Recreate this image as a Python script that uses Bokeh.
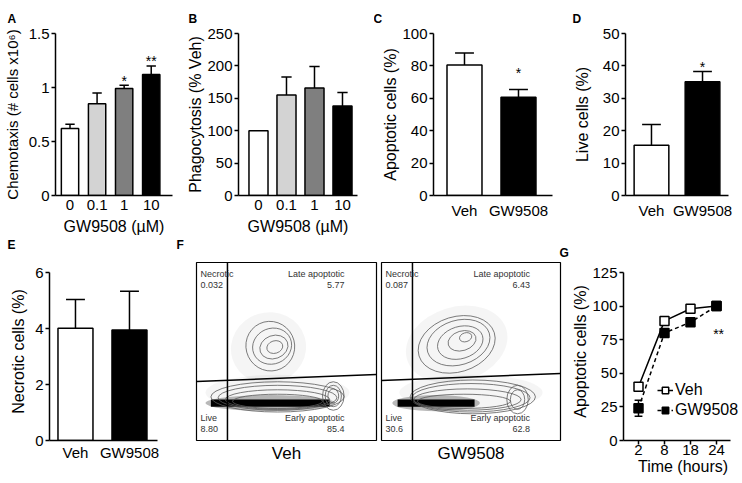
from bokeh.plotting import figure
from bokeh.layouts import row, column
from bokeh.models import Range1d, FixedTicker, Label, Legend, LegendItem, Title
from bokeh.embed import file_html
from bokeh.resources import INLINE

# ---------------- data ----------------
dose_labels = ["0", "0.1", "1", "10"]
chemotaxis = [0.62, 0.85, 0.99, 1.12]
chemotaxis_sem = [0.04, 0.10, 0.03, 0.08]
phagocytosis = [100, 155, 166, 138]
phagocytosis_sem = [0, 28, 33, 21]
dose_colors = ["#ffffff", "#d3d3d3", "#7f7f7f", "#000000"]

group_labels = ["Veh", "GW9508"]
group_colors = ["#ffffff", "#000000"]
apoptotic = [80.5, 60.7]
apoptotic_sem = [7.5, 4.8]
live = [15.5, 35.1]
live_sem = [6.4, 3.2]
necrotic = [4.01, 3.95]
necrotic_sem = [1.03, 1.38]

hour_labels = ["2", "8", "18", "24"]
veh_time = [40, 89, 98, 100]
gw_time = [24, 80, 88, 100]
gw_time_sem = [6, 0, 0, 0]

quadrant_names = ["Necrotic", "Late apoptotic", "Live", "Early apoptotic"]
veh_quadrant_pct = ["0.032", "5.77", "8.80", "85.4"]
gw_quadrant_pct = ["0.087", "6.43", "30.6", "62.8"]
veh_gate_x, veh_gate_y = 17.2, [33.1, 37.1]
gw_gate_x, gw_gate_y = 17.3, [33.7, 37.6]

# contour outlines: (x, y, width, height, angle), plot units 0-100
veh_upper = [(43.5, 52.5, 9, 7, 0.3), (43, 52.5, 16, 13, 0.35), (42, 53, 22, 20, 0.4), (41, 53, 27, 28, 0.45)]
veh_lower = [(45, 22, 50, 8, 0), (45, 23, 58, 11, 0), (45, 24, 66, 14, 0), (45, 24.5, 74, 17, 0)]
veh_lobe = [(76, 25, 6, 8, 0), (76, 25, 9, 12, 0), (76, 25, 12, 16, 0)]
veh_band = (8, 74, 21)
veh_cloud = [(40, 52, 42, 40, 0.3), (45, 27, 80, 20, 0)]
gw_upper = [(47, 58, 7, 5, 0.3), (45, 56, 16, 11, 0.3), (44, 55, 26, 18, 0.3), (43, 55, 36, 25, 0.3), (42, 54, 44, 31, 0.3)]
gw_lower = [(46, 22, 52, 8, 0), (48, 23, 60, 12, 0), (50, 24, 66, 16, 0), (51, 24.5, 70, 19, 0)]
gw_lobe = [(76, 23, 8, 11, 0), (76, 23, 12, 16, 0)]
gw_band = (9, 52, 21)
gw_cloud = [(42, 54, 58, 42, 0.3), (50, 27, 80, 20, 0)]

FONT = "Liberation Sans"
TICK_FS = "15px"
LAB_FS = "16px"


def base_fig(width, height, left, right, top, bottom, xr, yr, x_axis="below", y_axis="left"):
    p = figure(width=width, height=height, x_range=Range1d(*xr), y_range=Range1d(*yr),
               output_backend="svg", toolbar_location=None,
               x_axis_location=x_axis, y_axis_location=y_axis,
               min_border_left=left, min_border_right=right,
               min_border_top=top, min_border_bottom=bottom)
    p.grid.visible = False
    p.outline_line_color = None
    p.background_fill_color = "white"
    p.border_fill_color = "white"
    return p


def letter_kw():
    return dict(text_font=FONT, text_font_size="12px", text_font_style="bold", text_color="black")


def panel_letter(p, letter, offset):
    p.title.text = letter
    p.title.align = "left"
    p.title.offset = offset
    p.title.standoff = 16
    for k, v in letter_kw().items():
        setattr(p.title, k, v)


def below_letter(p, letter, offset):
    p.add_layout(Title(text=letter, align="left", offset=offset, standoff=0, vertical_align="top",
                       **letter_kw()), "below")


def style_axes(p, yticks, ylabel, ylab_standoff, xlabels, xlabel=None, y_over=None,
               x_tick_out=0, x_lab_standoff=2, x_title_standoff=0):
    ya = p.yaxis[0]
    xa = p.xaxis[0]
    ya.ticker = FixedTicker(ticks=yticks)
    ya.bounds = (yticks[0], yticks[-1])
    if y_over:
        ya.major_label_overrides = y_over
    ya.axis_label = ylabel
    ya.axis_label_standoff = ylab_standoff
    xa.ticker = FixedTicker(ticks=list(range(len(xlabels))))
    xa.major_label_overrides = {i: t for i, t in enumerate(xlabels)}
    if xlabel:
        xa.axis_label = xlabel
    for ax in (ya, xa):
        ax.axis_line_width = 1.5
        ax.axis_line_color = "black"
        ax.major_tick_line_width = 1.5
        ax.major_tick_line_color = "black"
        ax.major_tick_in = 0
        ax.major_tick_out = 4
        ax.minor_tick_line_color = None
        ax.major_label_text_font = FONT
        ax.major_label_text_font_size = TICK_FS
        ax.major_label_text_color = "black"
        ax.major_label_standoff = 2
        ax.axis_label_text_font = FONT
        ax.axis_label_text_font_size = LAB_FS
        ax.axis_label_text_font_style = "normal"
        ax.axis_label_text_color = "black"
    xa.major_label_standoff = x_lab_standoff
    xa.axis_label_standoff = x_title_standoff
    if x_tick_out == 0:
        xa.major_tick_line_color = None
        xa.major_tick_out = 0


def bars(p, vals, sems, colors, bw):
    xs = list(range(len(vals)))
    p.vbar(x=xs, top=vals, width=bw, fill_color=colors, line_color="black", line_width=1.5)
    ex = [x for x, s in zip(xs, sems) if s > 0]
    ev = [v for v, s in zip(vals, sems) if s > 0]
    et = [v + s for v, s in zip(vals, sems) if s > 0]
    cw = bw * 0.27
    p.segment(x0=ex, y0=ev, x1=ex, y1=et, line_color="black", line_width=1.5)
    p.segment(x0=[x - cw for x in ex], y0=et, x1=[x + cw for x in ex], y1=et,
              line_color="black", line_width=1.5)


def star(p, x, y, text):
    p.add_layout(Label(x=x, y=y, text=text, text_font=FONT, text_font_size="14px",
                       text_align="center", text_baseline="middle", text_color="black"))


# ---------------- row 1 (frames 33..201) ----------------
H1, T1 = 261, 33
B1 = H1 - 201

pA = base_fig(175, H1, 51, 3, T1, B1, (-0.536, 3.786), (0, 1.5))
style_axes(pA, [0, 0.5, 1, 1.5], "Chemotaxis (# cells x10\u2076)", 5, dose_labels, "GW9508 (\u00b5M)",
           y_over={0: "0"}, x_lab_standoff=4, x_title_standoff=5)
pA.yaxis[0].axis_label_text_font_size = "15px"
bars(pA, chemotaxis, chemotaxis_sem, dose_colors, 0.64)
star(pA, 2, 1.06, "*")
star(pA, 3, 1.245, "**")
panel_letter(pA, "A", -48)
below_letter(pA, "E", -48)

pB = base_fig(199, H1, 63, 17, T1, B1, (-0.714, 3.536), (0, 250))
style_axes(pB, [0, 50, 100, 150, 200, 250], "Phagocytosis (% Veh)", 0, dose_labels, "GW9508 (\u00b5M)",
           x_lab_standoff=4, x_title_standoff=5)
bars(pB, phagocytosis, phagocytosis_sem, dose_colors, 0.68)
panel_letter(pB, "B", -50)
below_letter(pB, "F", -62)

pC = base_fig(196, H1, 59, 18, T1, B1, (-0.574, 1.63), (0, 100))
style_axes(pC, [0, 20, 40, 60, 80, 100], "Apoptotic cells (%)", 0, group_labels, " ",
           x_lab_standoff=6, x_title_standoff=4)
bars(pC, apoptotic, apoptotic_sem, group_colors, 0.648)
star(pC, 1, 75.9, "*")
panel_letter(pC, "C", -60)
below_letter(pC, "G", 126)

pD = base_fig(172, H1, 51, 14, T1, B1, (-0.509, 1.509), (0, 50))
style_axes(pD, [0, 10, 20, 30, 40, 50], "Live cells (%)", 9, group_labels, x_lab_standoff=6)
bars(pD, live, live_sem, group_colors, 0.68)
star(pD, 1, 39.6, "*")
panel_letter(pD, "D", -53)

# ---------------- row 2 (frames 262..440) ----------------
H2 = 440 - H1 + 40
T2, B2 = 262 - H1, 40
FRAME_RATIO = 178 / 168  # flow-box height / bar-axis height

pE = base_fig(175, H2, 49, 18, T2, B2, (-0.481, 1.519), (0, 6 * FRAME_RATIO))
style_axes(pE, [0, 2, 4, 6], "Necrotic cells (%)", 5, group_labels, x_lab_standoff=3)
bars(pE, necrotic, necrotic_sem, group_colors, 0.648)


def flow_fig(width, left, right, pct, gate_x, gate_y, upper, lower, lobe, band, cloud, label_right, title):
    p = base_fig(width, H2, left, right, T2, B2, (0, 100), (0, 100), x_axis="below", y_axis=None)
    p.outline_line_color = "black"
    p.outline_line_width = 1.2
    xa = p.xaxis[0]
    xa.ticker = FixedTicker(ticks=[])
    xa.axis_line_color = None
    xa.major_tick_out = 0
    xa.major_tick_in = 0
    xa.major_label_standoff = 0
    xa.axis_label = title
    xa.axis_label_standoff = 3
    xa.axis_label_text_font = FONT
    xa.axis_label_text_font_size = "17px"
    xa.axis_label_text_font_style = "normal"
    xa.axis_label_text_color = "black"
    # faint scatter clouds around the populations
    p.ellipse(x=[c[0] for c in cloud], y=[c[1] for c in cloud], width=[c[2] for c in cloud],
              height=[c[3] for c in cloud], angle=[c[4] for c in cloud],
              fill_color="#000000", fill_alpha=0.04, line_color=None)
    # dense live / early-apoptotic band
    p.ellipse(x=[(band[0] + band[1]) / 2], y=[band[2]], width=[band[1] - band[0] + 6], height=[9],
              fill_color="#8a8a8a", fill_alpha=0.6, line_color=None)
    p.hbar(y=[band[2]], left=[band[0]], right=[band[1]], height=4, fill_color="black", line_color=None)
    for grp in (upper, lower, lobe):
        p.ellipse(x=[g[0] for g in grp], y=[g[1] for g in grp], width=[g[2] for g in grp],
                  height=[g[3] for g in grp], angle=[g[4] for g in grp],
                  fill_color=None, line_color="#5a5a5a", line_width=0.8)
    p.segment(x0=[gate_x, 0], y0=[0, gate_y[0]], x1=[gate_x, 100], y1=[100, gate_y[1]],
              line_color="black", line_width=1.5)
    kw = dict(text_font=FONT, text_font_size="9px", text_color="#333333", text_baseline="middle")
    p.add_layout(Label(x=2.2, y=93.8, text=quadrant_names[0], text_align="left", **kw))
    p.add_layout(Label(x=2.2, y=87.6, text=pct[0], text_align="left", **kw))
    p.add_layout(Label(x=label_right, y=93.8, text=quadrant_names[1], text_align="right", **kw))
    p.add_layout(Label(x=label_right, y=87.6, text=pct[1], text_align="right", **kw))
    p.add_layout(Label(x=2.2, y=12.9, text=quadrant_names[2], text_align="left", **kw))
    p.add_layout(Label(x=2.2, y=6.7, text=pct[2], text_align="left", **kw))
    p.add_layout(Label(x=label_right, y=12.9, text=quadrant_names[3], text_align="right", **kw))
    p.add_layout(Label(x=label_right, y=6.7, text=pct[3], text_align="right", **kw))
    return p


pF1 = flow_fig(203, 21, 2, veh_quadrant_pct, veh_gate_x, veh_gate_y, veh_upper, veh_lower, veh_lobe,
               veh_band, veh_cloud, 82.2, "Veh")
pF2 = flow_fig(184, 3, 2, gw_quadrant_pct, gw_gate_x, gw_gate_y, gw_upper, gw_lower, gw_lobe,
               gw_band, gw_cloud, 83.0, "GW9508")

G_XR = (-0.577, -0.577 + 119 / 26)
pG = base_fig(180, H2, 61, 0, T2, B2, G_XR, (0, 125 * FRAME_RATIO))
style_axes(pG, [0, 25, 50, 75, 100, 125], "Apoptotic cells (%)", 0, hour_labels, "Time (hours)",
           x_tick_out=4, x_lab_standoff=0, x_title_standoff=0)
pG.xaxis[0].bounds = (G_XR[0], G_XR[0] + 107 / 26)
gx = list(range(len(hour_labels)))
l1 = pG.line(gx, veh_time, line_color="black", line_width=1.5)
l2 = pG.line(gx, gw_time, line_color="black", line_width=1.5, line_dash="4 3")
ex = [x for x, s in zip(gx, gw_time_sem) if s > 0]
elo = [v - s for v, s in zip(gw_time, gw_time_sem) if s > 0]
ehi = [v + s for v, s in zip(gw_time, gw_time_sem) if s > 0]
pG.segment(x0=ex, y0=elo, x1=ex, y1=ehi, line_color="black", line_width=1.5)
pG.segment(x0=[x - 0.15 for x in ex], y0=ehi, x1=[x + 0.15 for x in ex], y1=ehi, line_color="black", line_width=1.5)
pG.segment(x0=[x - 0.15 for x in ex], y0=elo, x1=[x + 0.15 for x in ex], y1=elo, line_color="black", line_width=1.5)
m1 = pG.scatter(gx, veh_time, marker="square", size=9, fill_color="white", line_color="black", line_width=1.5)
m2 = pG.scatter(gx, gw_time, marker="square", size=9, fill_color="black", line_color="black", line_width=1.5)
star(pG, 3.08, 79.5, "**")
leg = Legend(items=[LegendItem(label="Veh", renderers=[l1, m1]), LegendItem(label="GW9508", renderers=[l2, m2])],
             location=(34, 21), glyph_width=16, glyph_height=18, label_height=18, label_standoff=2,
             spacing=2, padding=0, margin=0, border_line_color=None, background_fill_alpha=0,
             label_text_font=FONT, label_text_font_size="16px", label_text_color="black")
pG.add_layout(leg)

layout = column(row(pA, pB, pC, pD), row(pE, pF1, pF2, pG))
open("out.html", "w").write(file_html(layout, INLINE))
